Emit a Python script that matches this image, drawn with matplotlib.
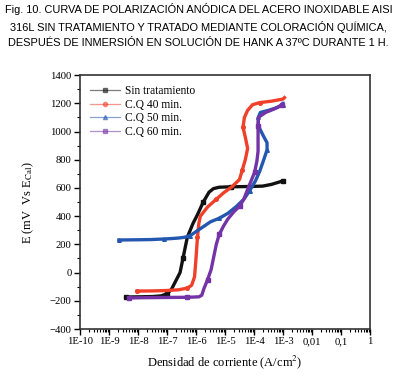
import numpy as np
import matplotlib
matplotlib.use("Agg")
import matplotlib.pyplot as plt
from matplotlib.ticker import FixedLocator, FixedFormatter, LogLocator, NullFormatter, MultipleLocator

plt.rcParams["font.family"] = ["Liberation Serif", "DejaVu Serif"]
plt.rcParams["mathtext.fontset"] = "stix"

# data: log10 of current density (A/cm2) and potential (mV)
sin_logi = [-8.4, -8.0, -7.5, -7.2, -7.0, -6.85, -6.7, -6.55, -6.45, -6.3, -6.1, -5.95,
            -5.75, -5.55, -5.4, -5.2, -4.8, -4.2, -3.7, -3.4, -3.0]
sin_E = [-173, -172, -170, -165, -150, -120, -60, 0, 100, 250, 350, 410,
         500, 570, 595, 605, 608, 610, 613, 625, 650]

cq40_logi = [-8.03, -7.5, -7.0, -6.6, -6.3, -6.15, -6.05, -6.0, -5.95, -5.9, -5.85, -5.6,
             -5.3, -5.05, -4.75, -4.5, -4.4, -4.3, -4.22, -4.3, -4.38, -4.33, -4.22,
             -4.05, -3.8, -3.4, -3.0, -2.95]
cq40_E = [-131, -130, -127, -122, -110, -90, -30, 100, 250, 350, 400, 465,
          520, 565, 610, 660, 730, 800, 880, 960, 1030, 1100, 1150,
          1190, 1205, 1215, 1230, 1240]

cq50_logi = [-8.66, -7.85, -7.55, -7.35, -7.1, -6.85, -6.6, -6.4, -6.2, -6.0, -5.8, -5.5,
             -5.2, -4.9, -4.6, -4.35, -4.15, -3.95, -3.8, -3.68, -3.55, -3.55, -3.68,
             -3.85, -3.85, -3.78, -3.5, -3.2, -3.0, -3.0]
cq50_E = [231, 233, 234, 236, 238, 241, 245, 250, 262, 290, 318, 360,
          385, 420, 470, 520, 580, 650, 720, 790, 870, 920, 970,
          1040, 1100, 1135, 1150, 1170, 1190, 1200]

cq60_logi = [-8.3, -7.8, -7.3, -6.8, -6.3, -5.9, -5.8, -5.72, -5.6, -5.48, -5.38, -5.3,
             -5.2, -5.05, -4.9, -4.7, -4.5, -4.35, -4.22, -4.1, -3.98, -3.9, -3.86,
             -3.86, -3.86, -3.85, -3.6, -3.3, -3.03]
cq60_E = [-180, -178, -177, -176, -175, -172, -160, -110, -50, 20, 120, 200,
          270, 330, 380, 430, 470, 520, 590, 650, 710, 790, 860,
          950, 1040, 1100, 1135, 1160, 1190]

series = [
    ("Sin tratamiento", sin_logi, sin_E, "#111111", "s"),
    ("C.Q 40 min.", cq40_logi, cq40_E, "#f0402a", "o"),
    ("C.Q 50 min.", cq50_logi, cq50_E, "#2458b0", "^"),
    ("C.Q 60 min.", cq60_logi, cq60_E, "#7433a6", "s"),
]
xtick_labels = ["1E-10", "1E-9", "1E-8", "1E-7", "1E-6", "1E-5", "1E-4", "1E-3", "0,01", "0,1", "1"]

fig = plt.figure(figsize=(3.97, 3.79), dpi=100)
ax = fig.add_axes([0.2015, 0.1319, 0.7305, 0.670])

legend_handles = []
for label, logi, E, color, mk in series:
    i = 10.0 ** np.array(logi)
    ax.plot(i, E, color=color, lw=2.4, marker=mk, ms=2.6, markevery=4, zorder=3)
    # legend handle: thin light line with marker
    h, = ax.plot([], [], color=color, lw=0.9, alpha=0.55, marker=mk, ms=3,
                 markerfacecolor=color, markeredgecolor=color, label=label)
    legend_handles.append(h)

ax.set_xscale("log")
ax.set_xlim(1e-10, 1)
ax.set_ylim(-400, 1400)

decades = [10.0 ** k for k in range(-10, 1)]
ax.xaxis.set_major_locator(FixedLocator(decades))
ax.xaxis.set_major_formatter(FixedFormatter(xtick_labels))
ax.xaxis.set_minor_locator(LogLocator(base=10, subs=np.arange(2, 10), numticks=20))
ax.xaxis.set_minor_formatter(NullFormatter())
ax.yaxis.set_major_locator(MultipleLocator(200))
ax.yaxis.set_minor_locator(MultipleLocator(100))

ax.tick_params(which="both", direction="out", top=False, right=False, labelsize=7.7, pad=2)
ax.tick_params(which="major", length=4, width=1)
ax.tick_params(which="minor", length=2.5, width=0.8)
for sp in ax.spines.values():
    sp.set_linewidth(1.2)
    sp.set_color("#333333")

ax.set_xlabel("Densidad de corriente (A/cm$^2$)", fontsize=9, labelpad=5)
ax.set_ylabel("E (mV  Vs E$_{\\mathrm{Cal}}$)", fontsize=9, labelpad=10)

ax.legend(handles=legend_handles, loc="upper left", frameon=False, fontsize=8.3,
          handlelength=2.6, handletextpad=0.4, labelspacing=0.12,
          borderaxespad=0.5, bbox_to_anchor=(0.0, 1.0))

title = ("Fig. 10. CURVA DE POLARIZACIÓN ANÓDICA DEL ACERO INOXIDABLE AISI\n"
         "316L SIN TRATAMIENTO Y TRATADO MEDIANTE COLORACIÓN QUÍMICA,\n"
         "DESPUÉS DE INMERSIÓN EN SOLUCIÓN DE HANK A 37ºC DURANTE 1 H.")
fig.text(0.5, 0.992, title, ha="center", va="top", fontsize=7.9,
         family=["Liberation Sans", "DejaVu Sans"], linespacing=1.6)

fig.savefig("out.png", dpi=100)
